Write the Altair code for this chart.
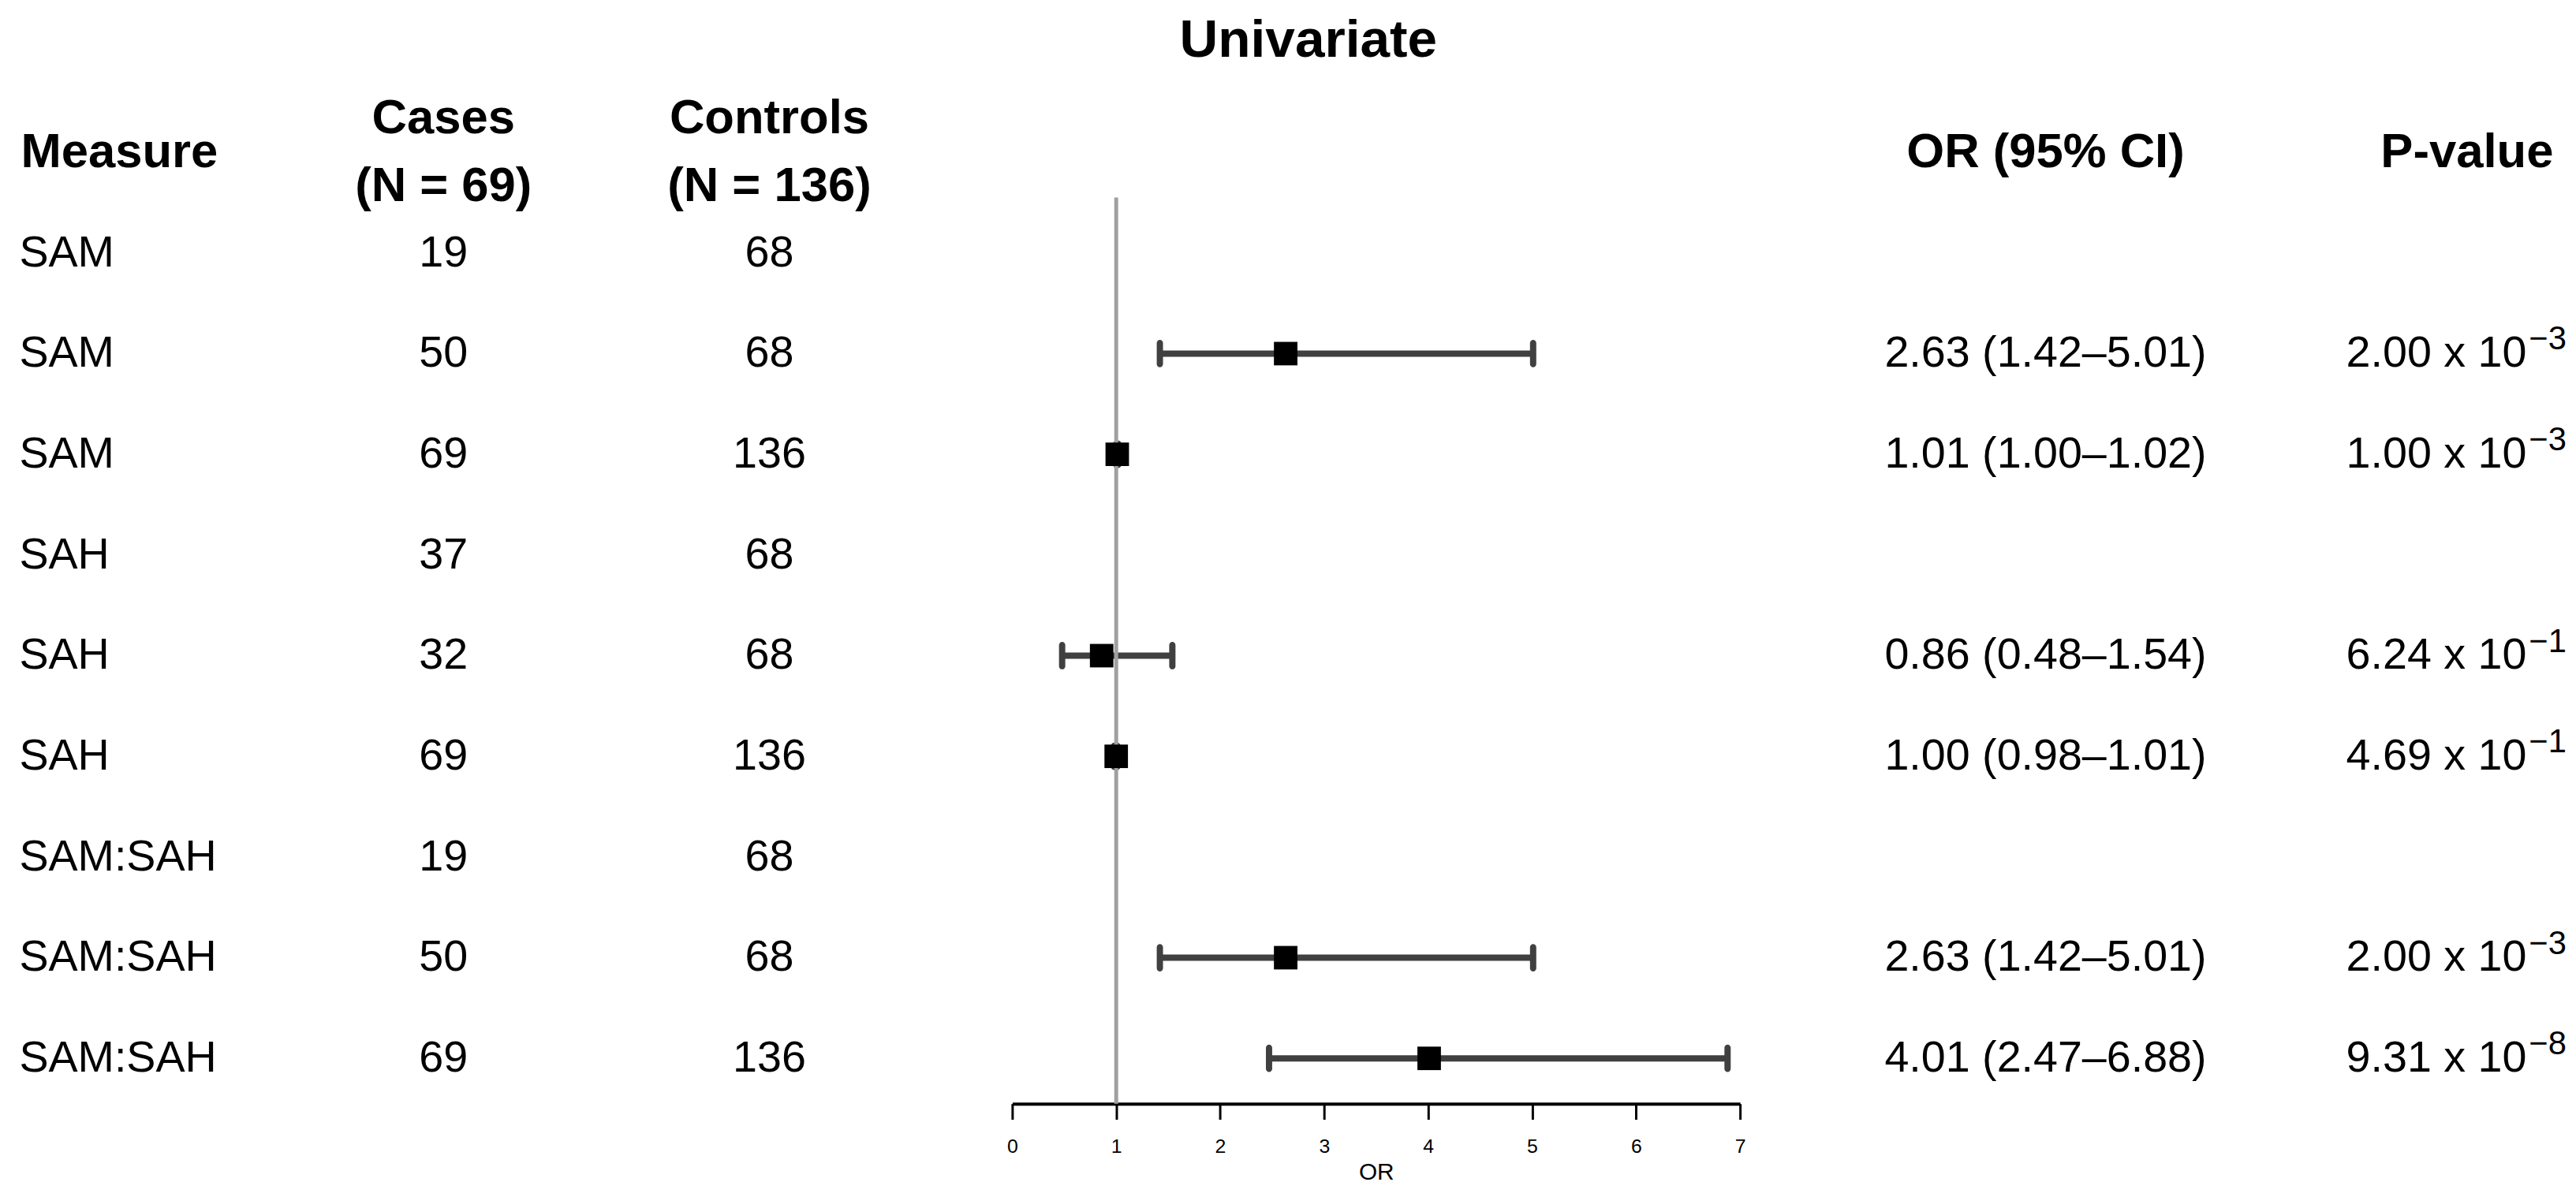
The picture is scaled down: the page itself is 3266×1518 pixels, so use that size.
import altair as alt
import pandas as pd

# ---------------- data ----------------
measures = ["SAM", "SAM", "SAM", "SAH", "SAH", "SAH", "SAM:SAH", "SAM:SAH", "SAM:SAH"]
cases = [19, 50, 69, 37, 32, 69, 19, 50, 69]
controls = [68, 68, 136, 68, 68, 136, 68, 68, 136]
or_est = [None, 2.63, 1.01, None, 0.86, 1.00, None, 2.63, 4.01]
or_lo = [None, 1.42, 1.00, None, 0.48, 0.98, None, 1.42, 2.47]
or_hi = [None, 5.01, 1.02, None, 1.54, 1.01, None, 5.01, 6.88]
p_mantissa = [None, "2.00", "1.00", None, "6.24", "4.69", None, "2.00", "9.31"]
p_exponent = [None, -3, -3, None, -1, -1, None, -3, -8]

title_text = "Univariate"
header_measure = "Measure"
header_cases = "Cases\n(N = 69)"
header_controls = "Controls\n(N = 136)"
header_or = "OR (95% CI)"
header_p = "P-value"
axis_ticks = [0, 1, 2, 3, 4, 5, 6, 7]
axis_domain = [0, 7]
ref_value = 1
axis_title = "OR"

rows = list(range(1, len(measures) + 1))

FONT = "Liberation Sans"
BODY = 56
HEAD = 62
ROW_DOMAIN = [-0.5, 9.45]
REF_TOP = 0.45
H = 1279

yscale = alt.Scale(domain=ROW_DOMAIN, reverse=True, nice=False, zero=False)
Y = alt.Y("row:Q", scale=yscale, axis=None)

df = pd.DataFrame({
    "row": rows,
    "measure": measures,
    "cases": [str(c) for c in cases],
    "controls": [str(c) for c in controls],
    "ortext": [
        (f"{e:.2f} ({l:.2f}\u2013{h:.2f})" if e is not None else "")
        for e, l, h in zip(or_est, or_lo, or_hi)
    ],
    "pbase": [(f"{m} x 10" if m is not None else "") for m in p_mantissa],
    "pexp": [(f"\u2212{abs(e)}" if e is not None else "") for e in p_exponent],
})
df["col"] = "c"

forest_df = pd.DataFrame({
    "row": [r for r, e in zip(rows, or_est) if e is not None],
    "est": [e for e in or_est if e is not None],
    "lo": [l for l in or_lo if l is not None],
    "hi": [h for h in or_hi if h is not None],
})


def header_df(text):
    return pd.DataFrame({"row": [0], "label": [text], "col": ["c"]})


XC = alt.X("col:N", axis=None)


def text_panel(field, header, width, align="center", dx=0, hdx=0, hdy=0):
    body = alt.Chart(df).mark_text(
        font=FONT, fontSize=BODY, align=align, baseline="middle", color="black", dx=dx
    ).encode(x=XC, y=Y, text=f"{field}:N")
    head = alt.Chart(header_df(header)).mark_text(
        font=FONT, fontSize=HEAD, fontWeight="bold", align=align, baseline="middle",
        color="black", lineBreak="\n", lineHeight=86, dx=hdx, dy=hdy
    ).encode(x=XC, y=Y, text="label:N")
    return alt.layer(head, body).properties(width=width, height=H)


p_measure = text_panel("measure", header_measure, 365, align="left", dx=-166, hdx=-164)
p_cases = text_panel("cases", header_cases, 224, hdy=-43)
p_controls = text_panel("controls", header_controls, 446, hdy=-43)
p_or = text_panel("ortext", header_or, 606)

# P-value panel (mantissa + superscript exponent)
p_base = alt.Chart(df).mark_text(
    font=FONT, fontSize=BODY, align="right", baseline="middle", color="black", dx=85
).encode(x=XC, y=Y, text="pbase:N")
p_sup = alt.Chart(df).mark_text(
    font=FONT, fontSize=42, align="left", baseline="middle", color="black", dx=88, dy=-18
).encode(x=XC, y=Y, text="pexp:N")
p_head = alt.Chart(header_df(header_p)).mark_text(
    font=FONT, fontSize=HEAD, fontWeight="bold", align="center", baseline="middle",
    color="black", dx=9
).encode(x=XC, y=Y, text="label:N")
p_pval = alt.layer(p_head, p_base, p_sup).properties(width=280, height=H)

# Forest panel
xscale = alt.Scale(domain=axis_domain, nice=False, zero=False)
xaxis = alt.Axis(
    values=axis_ticks, title=axis_title, grid=False, labelFlush=False,
    domainColor="black", domainWidth=4, tickColor="black", tickWidth=3, tickSize=20,
    labelFont=FONT, labelFontSize=25, labelColor="black", labelPadding=22,
    titleFont=FONT, titleFontSize=30, titleFontWeight="normal", titleColor="black",
    titlePadding=5, format="d",
)

whisk = alt.Chart(forest_df).mark_rule(color="#404040", strokeWidth=8).encode(
    x=alt.X("lo:Q", scale=xscale, axis=xaxis), x2="hi:Q", y=Y
)
caps = alt.Chart(forest_df).transform_fold(["lo", "hi"], as_=["end", "val"]).mark_tick(
    color="#404040", orient="vertical", thickness=8, size=35, cornerRadius=4, opacity=1
).encode(x=alt.X("val:Q", scale=xscale), y=Y)
ref_df = pd.DataFrame({"ref": [ref_value], "top": [REF_TOP], "bottom": [ROW_DOMAIN[1]]})
ref = alt.Chart(ref_df).mark_rule(color="#a0a0a0", strokeWidth=5).encode(
    x=alt.X("ref:Q", scale=xscale),
    y=alt.Y("top:Q", scale=yscale, axis=None),
    y2="bottom:Q",
)
pts = alt.Chart(forest_df).mark_square(size=900, color="black", opacity=1, filled=True).encode(
    x=alt.X("est:Q", scale=xscale), y=Y
)
forest = alt.layer(whisk, caps, ref, pts).properties(width=929, height=H)

chart = alt.hconcat(
    p_measure, p_cases, p_controls, forest, p_or, p_pval, spacing=80
).properties(
    title=alt.TitleParams(
        title_text, font=FONT, fontSize=68, fontWeight="bold", anchor="middle",
        frame="bounds", dx=26, color="black", offset=34,
    ),
    padding={"left": 0, "top": 5, "right": 0, "bottom": 0},
).configure_view(stroke=None)

chart.save("out.html", embed_options={"renderer": "svg", "actions": False})
